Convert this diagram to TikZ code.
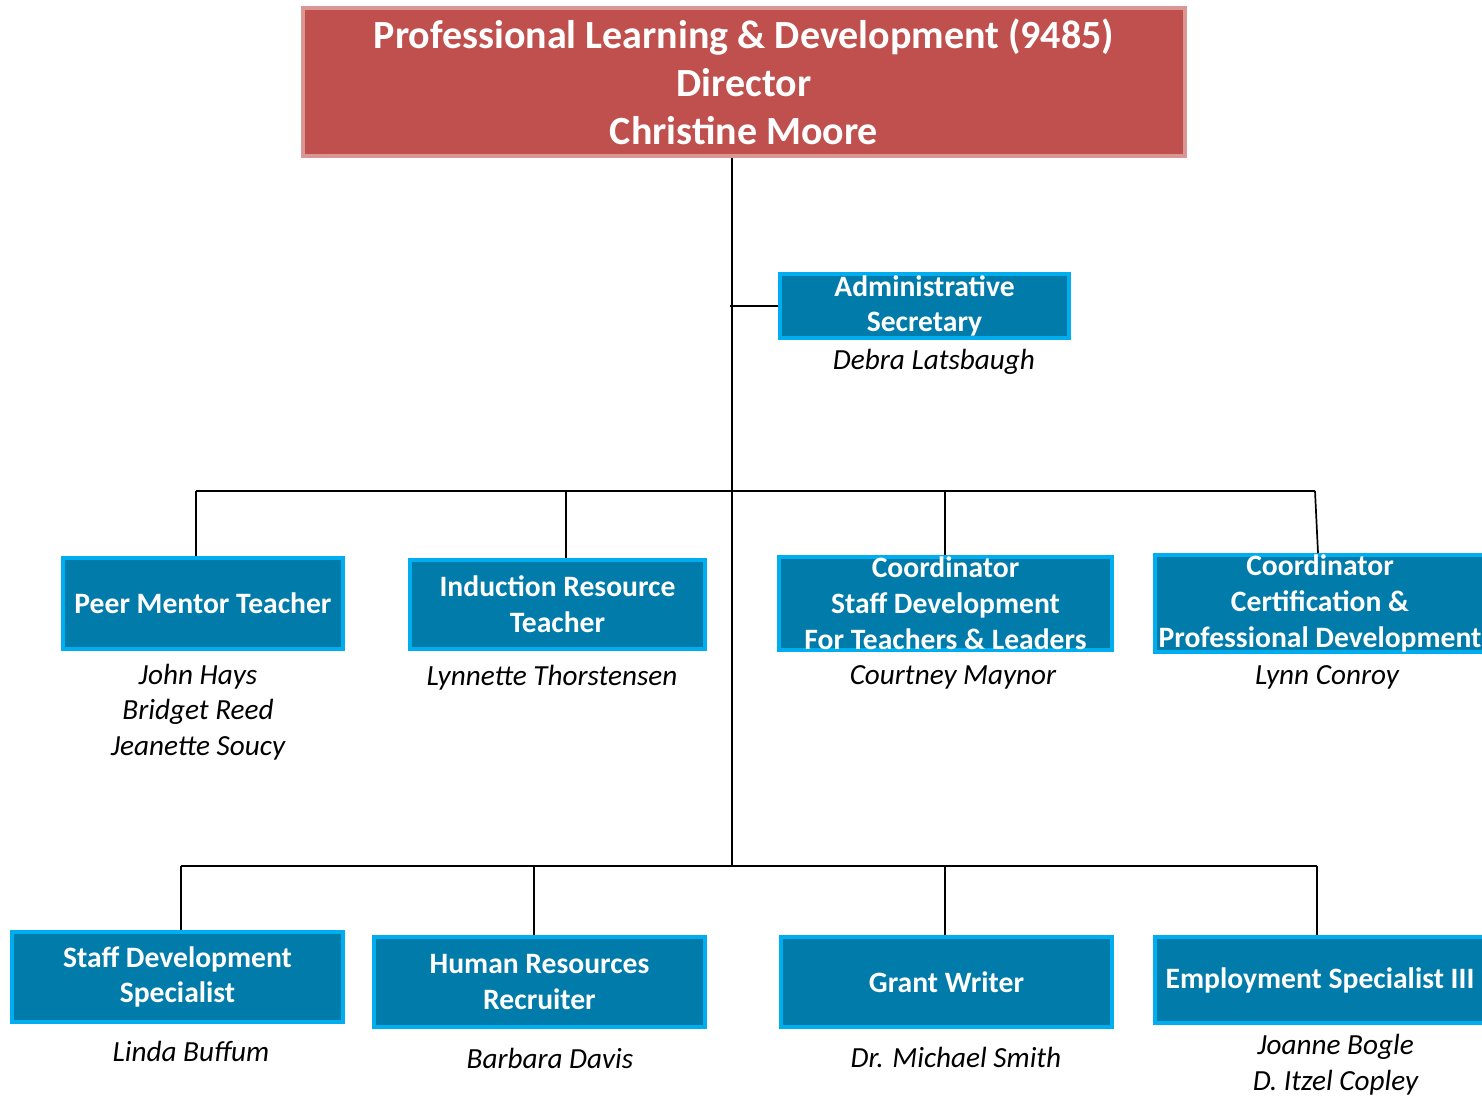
\documentclass[tikz,border=0pt]{standalone}
\usepackage{fontspec}
\setmainfont{Carlito}
\usetikzlibrary{positioning}
\definecolor{rotfill}{HTML}{C0504D}
\definecolor{rotrand}{HTML}{DA9694}
\definecolor{blaufill}{HTML}{007BAA}
\definecolor{blaurand}{HTML}{00AEEF}
\tikzset{
  chef/.style={draw=rotrand,fill=rotfill,line width=2pt,text=white,align=center,
    inner sep=0pt,font=\fontsize{20}{24}\selectfont\bfseries},
  stelle/.style={draw=blaurand,fill=blaufill,line width=2pt,text=white,align=center,
    inner sep=0pt,font=\fontsize{14.8}{17.9}\selectfont\bfseries},
  person/.style={align=center,inner sep=0pt,font=\fontsize{14.6}{17.8}\selectfont\itshape},
  linie/.style={line width=0.85pt},
}

\begin{document}
\begin{tikzpicture}[x=0.5pt,y=-0.5pt]
  \useasboundingbox (0,0) rectangle (1482,1096);
  % Leitung
  \node[chef,minimum width=441pt,minimum height=74pt] (dir) at (744,82)
    {Professional Learning \& Development (9485)\\Director\\Christine Moore};
  \node[stelle,minimum width=144.5pt,minimum height=32pt] (sek) at (924.5,306)
    {Administrative\\Secretary};
  \node[person] (sekn) at (934,362) {Debra Latsbaugh};
  % erste Reihe
  \node[stelle,minimum width=140pt,minimum height=45.5pt] (peer) at (203,603.5)
    {Peer Mentor Teacher};
  \node[stelle,minimum width=147.5pt,minimum height=44.5pt] (ind) at (557.5,604.5)
    {Induction Resource\\Teacher};
  \node[stelle,minimum width=166.5pt,minimum height=45.5pt] (ksd) at (945.5,603.5)
    {Coordinator\\Staff Development\\For Teachers \& Leaders};
  \node[stelle,minimum width=165pt,minimum height=45.5pt] (kcp) at (1320,603.5)
    {Coordinator\\Certification \&\\Professional Development};
  \node[person] (peern) at (198,712) {John Hays\\Bridget Reed\\Jeanette Soucy};
  \node[person] (indn) at (552,678) {Lynnette Thorstensen};
  \node[person] (ksdn) at (953,677) {Courtney Maynor};
  \node[person] (kcpn) at (1327,677) {Lynn Conroy};
  % zweite Reihe
  \node[stelle,minimum width=165.5pt,minimum height=45pt] (sds) at (177.5,977)
    {Staff Development\\Specialist};
  \node[stelle,minimum width=165.5pt,minimum height=45pt] (hrr) at (539.5,982)
    {Human Resources\\Recruiter};
  \node[stelle,minimum width=165.5pt,minimum height=45pt] (gw) at (946.5,982)
    {Grant Writer};
  \node[stelle,minimum width=165pt,minimum height=43pt] (emp) at (1320,980)
    {Employment Specialist III};
  \node[person] (sdsn) at (191,1051) {Linda Buffum};
  \node[person] (hrrn) at (550,1058) {Barbara Davis};
  \node[person] (gwn) at (956,1057) {Dr. Michael Smith};
  \node[person] (empn) at (1335.5,1065) {Joanne Bogle\\D. Itzel Copley};
  % Verbindungen
  \coordinate (s1) at (732,491);
  \coordinate (s2) at (732,866);
  \coordinate (a1) at (196,491); \coordinate (b1) at (566,491);
  \coordinate (c1) at (945,491); \coordinate (d1) at (1315,491);
  \coordinate (a2) at (181,866); \coordinate (b2) at (534,866);
  \coordinate (c2) at (945,866); \coordinate (d2) at (1317,866);
  \draw[linie] (dir.south -| s1) -- (s2);
  \draw[linie] ([xshift=-1pt]sek.west -| s1) -- (sek.west);
  \draw[linie] (a1) -- (d1);
  \draw[linie] (a1) -- (a1 |- peer.north);
  \draw[linie] (b1) -- (b1 |- ind.north);
  \draw[linie] (c1) -- (c1 |- ksd.north);
  \draw[linie] (d1) -- ([xshift=1.5pt]d1 |- kcp.north);
  \draw[linie] (a2) -- (d2);
  \draw[linie] (a2) -- (a2 |- sds.north);
  \draw[linie] (b2) -- (b2 |- hrr.north);
  \draw[linie] (c2) -- (c2 |- gw.north);
  \draw[linie] (d2) -- (d2 |- emp.north);
\end{tikzpicture}
\end{document}
